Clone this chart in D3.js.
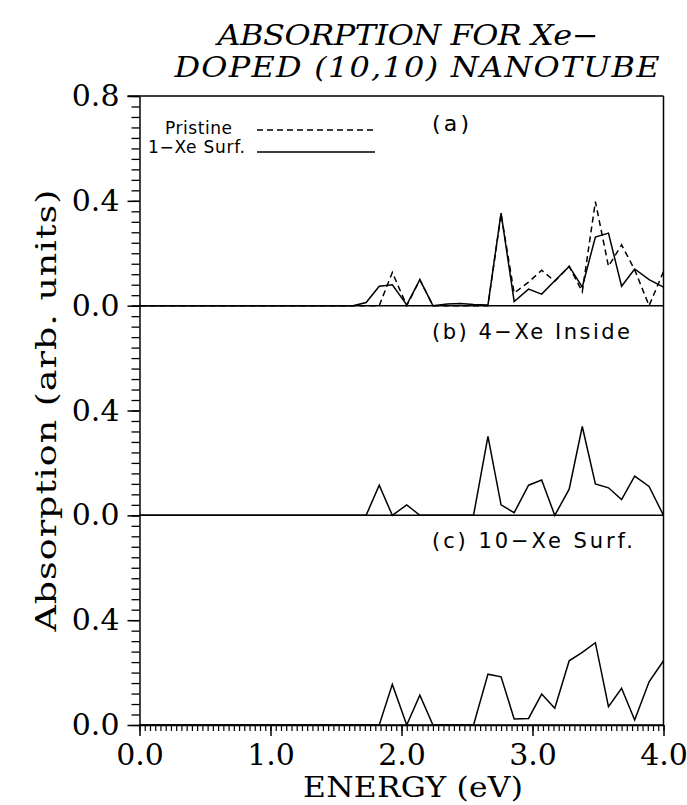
<!DOCTYPE html>
<html>
<head>
<meta charset="utf-8">
<script src="https://cdn.jsdelivr.net/npm/d3@7"></script>
<style>
body { margin: 0; background: #fff; }
</style>
</head>
<body>
<script>
// energy grid (eV) shared by all spectra
var energy = [0.0, 1.63, 1.73, 1.83, 1.93, 2.04, 2.14, 2.24, 2.35, 2.45, 2.55, 2.66,
              2.76, 2.86, 2.97, 3.07, 3.17, 3.28, 3.38, 3.48, 3.58, 3.68, 3.78, 3.89, 4.0];

// (a) pristine tube (dashed) and 1-Xe on surface (solid)
var pristine = [0, 0, 0, 0, 0.127, 0, 0.099, 0, 0, 0, 0, 0,
                0.35, 0.048, 0.09, 0.135, 0.093, 0.15, 0.053, 0.397, 0.15, 0.232, 0.137, 0, 0.13];
var xe1Surf  = [0, 0, 0.012, 0.074, 0.08, 0.003, 0.099, 0, 0.006, 0.008, 0.004, 0.003,
                0.353, 0.016, 0.063, 0.044, 0.095, 0.15, 0.071, 0.262, 0.277, 0.074, 0.14, 0.099, 0.071];
// (b) 4-Xe inside
var xe4Inside = [0, 0, 0, 0.115, 0, 0.04, 0, 0, 0, 0, 0, 0.301,
                 0.04, 0.01, 0.115, 0.135, 0, 0.10, 0.339, 0.12, 0.105, 0.06, 0.15, 0.11, 0];
// (c) 10-Xe on surface
var xe10Surf = [0, 0, 0, 0, 0.155, 0, 0.114, 0, 0, 0, 0, 0.194,
                0.184, 0.023, 0.025, 0.118, 0.064, 0.245, 0.277, 0.314, 0.07, 0.14, 0.019, 0.165, 0.245];

var xTicks = [0, 1, 2, 3, 4];
var yTicks = [0, 0.4, 0.8];
var panelLabels = ["(a)", "(b) 4\u2212Xe Inside", "(c) 10\u2212Xe Surf."];

var W = 687, H = 805;
var plotLeft = 139.5, plotRight = 663.5, plotTop = 96, plotBottom = 725;
var panelH = (plotBottom - plotTop) / 3;

var svg = d3.select("body").append("svg")
    .attr("width", W)
    .attr("height", H);

var x = d3.scaleLinear().domain([0, 4]).range([plotLeft, plotRight]);

// minor ticks every 0.04
var xMinor = d3.range(0, 100.5, 1).map(function(i){ return i * 0.04; });
var yMinor = d3.range(0, 20.5, 1).map(function(i){ return i * 0.04; });

function zip(vals) {
  return energy.map(function(e, i){ return {e: e, v: vals[i]}; });
}

var panels = [
  {series: [{vals: pristine, dash: "6,4"}, {vals: xe1Surf, dash: null}], labels: yTicks, lw: 37},
  {series: [{vals: xe4Inside, dash: null}], labels: [0, 0.4], lw: 198},
  {series: [{vals: xe10Surf, dash: null}], labels: [0, 0.4], lw: 201}
];

var serif = "'DejaVu Serif', serif";
var sans = "'DejaVu Sans', 'Liberation Sans', sans-serif";

panels.forEach(function(p, i) {
  var base = plotTop + panelH * (i + 1);
  var y = d3.scaleLinear().domain([0, 0.8]).range([base, base - panelH]);

  // minor ticks
  svg.append("g")
      .attr("transform", "translate(" + plotLeft + ",0)")
      .call(d3.axisLeft(y).tickValues(yMinor).tickSize(8).tickFormat("").tickSizeOuter(0))
      .call(function(g){ g.select(".domain").remove(); })
      .selectAll("line").attr("stroke-width", 1.3);

  // major ticks + labels
  var ax = svg.append("g")
      .attr("transform", "translate(" + plotLeft + ",0)")
      .call(d3.axisLeft(y).tickValues(p.labels).tickSize(12).tickPadding(8)
            .tickFormat(d3.format(".1f")).tickSizeOuter(0));
  ax.select(".domain").attr("stroke-width", 1.5);
  ax.selectAll("line").attr("stroke-width", 1.5);
  ax.selectAll("text")
      .attr("font-family", serif)
      .attr("font-size", 30)
      .attr("fill", "#000");

  // panel baseline across the box
  svg.append("line")
      .attr("x1", plotLeft).attr("x2", plotRight)
      .attr("y1", y(0)).attr("y2", y(0))
      .attr("stroke", "#000").attr("stroke-width", 1.5);

  var line = d3.line()
      .x(function(d){ return x(d.e); })
      .y(function(d){ return y(d.v); });

  p.series.forEach(function(s) {
    svg.append("path")
        .datum(zip(s.vals))
        .attr("d", line)
        .attr("fill", "none")
        .attr("stroke", "#000")
        .attr("stroke-width", 1.5)
        .attr("stroke-linejoin", "miter")
        .attr("stroke-dasharray", s.dash);
  });

  svg.append("text")
      .attr("x", 432)
      .attr("y", base - panelH + (i === 0 ? 35 : 33))
      .attr("font-family", sans)
      .attr("font-size", i === 0 ? 22 : 21)
      .attr("textLength", p.lw)
      .attr("lengthAdjust", "spacing")
      .text(panelLabels[i]);
});

// top frame line and right border
svg.append("line")
    .attr("x1", plotLeft - 12).attr("x2", plotRight)
    .attr("y1", plotTop).attr("y2", plotTop)
    .attr("stroke", "#000").attr("stroke-width", 1.5);
svg.append("line")
    .attr("x1", plotRight).attr("x2", plotRight)
    .attr("y1", plotTop).attr("y2", plotBottom)
    .attr("stroke", "#000").attr("stroke-width", 1.5);

// x axis
svg.append("g")
    .attr("transform", "translate(0," + plotBottom + ")")
    .call(d3.axisBottom(x).tickValues(xMinor).tickSize(6).tickFormat("").tickSizeOuter(0))
    .call(function(g){ g.select(".domain").remove(); })
    .selectAll("line").attr("stroke-width", 1.2);

var xAx = svg.append("g")
    .attr("transform", "translate(0," + plotBottom + ")")
    .call(d3.axisBottom(x).tickValues(xTicks).tickSize(11).tickPadding(8)
          .tickFormat(d3.format(".1f")).tickSizeOuter(0));
xAx.select(".domain").attr("stroke-width", 1.5);
xAx.selectAll("line").attr("stroke-width", 1.5);
xAx.selectAll("text")
    .attr("font-family", serif)
    .attr("font-size", 30)
    .attr("fill", "#000");

// legend in panel (a)
var legend = [
  {name: "Pristine", dash: "6,4", ty: 134, ly: 130, tx: 165, tw: 67},
  {name: "1\u2212Xe Surf.", dash: null, ty: 153, ly: 152, tx: 148, tw: 97}
];
legend.forEach(function(l) {
  svg.append("text")
      .attr("x", l.tx).attr("y", l.ty)
      .attr("font-family", sans)
      .attr("font-size", 17)
      .attr("textLength", l.tw)
      .attr("lengthAdjust", "spacing")
      .text(l.name);
  svg.append("line")
      .attr("x1", 257).attr("x2", 375)
      .attr("y1", l.ly).attr("y2", l.ly)
      .attr("stroke", "#000").attr("stroke-width", 1.3)
      .attr("stroke-dasharray", l.dash);
});

// titles (wide serif look: stretch horizontally)
function wideText(cx, cy, sx, len, str, italic, rot) {
  var t = svg.append("text")
      .attr("transform", "translate(" + cx + "," + cy + ")" + (rot ? " rotate(-90)" : "") + " scale(" + sx + ",1)")
      .attr("text-anchor", "middle")
      .attr("font-family", serif)
      .attr("font-style", italic ? "italic" : "normal")
      .attr("font-size", 28)
      .text(str);
  if (len) t.attr("textLength", len / sx).attr("lengthAdjust", "spacing");
  return t;
}

wideText(408, 45, 1.14, 381, "ABSORPTION FOR Xe\u2212", true, false);
wideText(417, 77, 1.14, 485, "DOPED (10,10) NANOTUBE", true, false);
wideText(413, 797, 1.12, 220, "ENERGY (eV)", false, false);
wideText(56, (plotTop + plotBottom) / 2, 1.3, 442, "Absorption (arb. units)", false, true);
</script>
</body>
</html>
